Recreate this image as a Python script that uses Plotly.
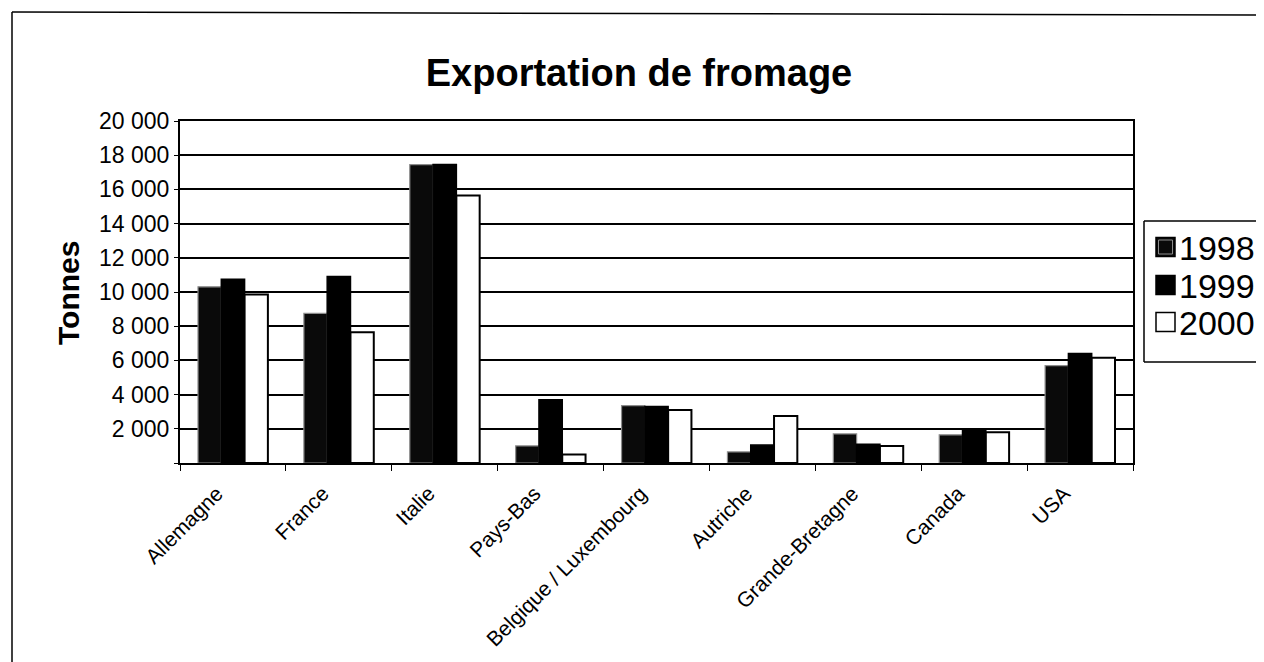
import plotly.graph_objects as go

categories = ["Allemagne", "France", "Italie", "Pays-Bas", "Belgique / Luxembourg",
              "Autriche", "Grande-Bretagne", "Canada", "USA"]
series_names = ["1998", "1999", "2000"]
v1998 = [10300, 8750, 17450, 1000, 3350, 650, 1700, 1650, 5700]
v1999 = [10750, 10900, 17450, 3700, 3300, 1050, 1100, 1900, 6400]
v2000 = [9850, 7650, 15650, 500, 3100, 2750, 1000, 1800, 6150]
ytickvals = [0, 2000, 4000, 6000, 8000, 10000, 12000, 14000, 16000, 18000, 20000]
yticktext = ["", "2 000", "4 000", "6 000", "8 000", "10 000", "12 000",
             "14 000", "16 000", "18 000", "20 000"]

OFF = 8  # page body margin
SW, SH = 1264, 662
W, H = SW - OFF, SH - OFF
L, R, T, B = 180, 1133, 121, 463  # screen pixel coords of plot area
FONT = "Liberation Sans, Arial, sans-serif"


def px(x):
    return (x - L) / (R - L)


def py(y):
    return (B - y) / (B - T)


fills = ["#0a0a0a", "#000000", "#ffffff"]
lines = ["#8c8c8c", "#000000", "#000000"]
lw = [1.2, 1.5, 2]

fig = go.Figure()
for name, vals, fc, lc, w in zip(series_names, [v1998, v1999, v2000], fills, lines, lw):
    fig.add_trace(go.Bar(x=categories, y=vals, name=name,
                         marker=dict(color=fc, line=dict(color=lc, width=w)),
                         showlegend=False))


def seg(x0, y0, x1, y1, w=1.5):
    return dict(type="line", xref="paper", yref="paper", x0=px(x0), y0=py(y0), x1=px(x1), y1=py(y1),
                line=dict(color="#000", width=w))


shapes = []
# outer chart frame (left and top only)
shapes.append(seg(12, 670, 12, 12))
shapes.append(seg(12, 12, 1275, 15))
# legend box (open on the right, runs past the edge)
shapes.append(dict(type="rect", xref="paper", yref="paper", x0=px(1144), y0=py(362), x1=px(1300), y1=py(221),
                   line=dict(width=0), fillcolor="#fff"))
shapes.append(seg(1144, 221, 1300, 221))
shapes.append(seg(1144, 362, 1300, 362))
shapes.append(seg(1144, 221, 1144, 362))

annotations = []
item_y = [247, 285, 322]
for name, cy, fc in zip(series_names, item_y, fills):
    shapes.append(dict(type="rect", xref="paper", yref="paper", x0=px(1156), x1=px(1175),
                       y0=py(cy + 9.5), y1=py(cy - 9.5), fillcolor=fc, line=dict(color="#000", width=1.5)))
    if name == "1998":
        shapes.append(dict(type="rect", xref="paper", yref="paper", x0=px(1158.5), x1=px(1172.5),
                           y0=py(cy + 7), y1=py(cy - 7), fillcolor="rgba(0,0,0,0)",
                           line=dict(color="#8c8c8c", width=1)))
    annotations.append(dict(text=name, xref="paper", yref="paper", x=px(1177), y=py(cy + 1),
                            xanchor="left", yanchor="middle", showarrow=False,
                            font=dict(family=FONT, size=34, color="#000")))

annotations.append(dict(text="<b>Tonnes</b>", xref="paper", yref="paper", x=px(68), y=py(293),
                        textangle=-90, showarrow=False, xanchor="center", yanchor="middle",
                        font=dict(family=FONT, size=30, color="#000")))

fig.update_layout(
    width=W, height=H,
    margin=dict(l=L - OFF, r=SW - R, t=T - OFF, b=SH - B, pad=0),
    paper_bgcolor="#ffffff", plot_bgcolor="#ffffff",
    barmode="group", bargap=0.34, bargroupgap=0,
    separators=", ",
    title=dict(text="<b>Exportation de fromage</b>", x=px(639), xref="paper", xanchor="center",
               y=1 - (73 - OFF) / H, yanchor="middle", font=dict(family=FONT, size=38, color="#000")),
    font=dict(family=FONT, size=21, color="#000"),
    shapes=shapes, annotations=annotations, showlegend=False,
)
fig.update_xaxes(showline=True, linecolor="#000", linewidth=2, mirror=True,
                 ticks="outside", tickson="boundaries", ticklen=6, tickcolor="#000", tickwidth=1,
                 tickangle=-45, tickfont=dict(family=FONT, size=21, color="#000"),
                 ticklabelshift=-16, ticklabelstandoff=8,
                 showgrid=False)
fig.update_yaxes(range=[0, 20000], tickvals=ytickvals, ticktext=yticktext,
                 showline=True, linecolor="#000", linewidth=2, mirror=True,
                 ticks="outside", ticklen=4, tickcolor="#000", tickwidth=1,
                 showgrid=True, gridcolor="#000", gridwidth=2, zeroline=False,
                 tickfont=dict(family=FONT, size=23, color="#000"))

fig.write_html("out.html")
